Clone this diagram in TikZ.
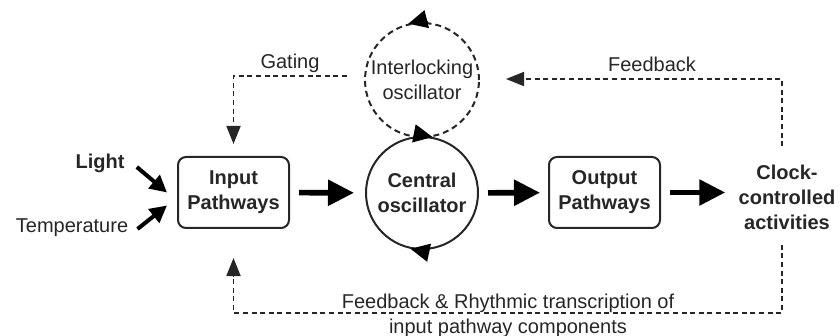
\documentclass[tikz,border=0pt]{standalone}
\usepackage{fontspec}
\setmainfont{Liberation Sans}
\usetikzlibrary{arrows.meta}

\begin{document}
\begin{tikzpicture}[x=0.5pt, y=0.5pt,
    every node/.style={font=\fontsize{10}{12.5}\selectfont, text=black!85, inner sep=0pt, align=center},
    pathbox/.style={draw=black!85, line width=1pt, rounded corners=4pt, minimum width=55.5pt, minimum height=35.5pt, font=\fontsize{10}{12.5}\selectfont\bfseries},
    osc/.style={circle, draw=black!85, line width=1pt, minimum size=56pt},
    bigarrow/.style={draw=black, line width=2.8pt, -{Triangle[length=13pt,width=12.5pt]}},
    smallarrow/.style={draw=black, line width=2pt, -{Triangle[length=8.5pt,width=8.5pt]}},
    fb/.style={draw=black!85, dash pattern=on 2.5pt off 1.8pt, line width=0.9pt, -{Triangle[length=9pt,width=7pt]}},
    spin/.style={draw=black, line width=1pt, -{Triangle[length=9.5pt,width=9pt]}}]
    \useasboundingbox (0,0) rectangle (840,-336);

    % boxes and oscillators
    \node[pathbox] (input) at (233.5,-192.5) {Input\\Pathways};
    \node[osc, font=\fontsize{10}{12.5}\selectfont\bfseries] (central) at (422,-193) {Central\\oscillator};
    \node[osc, minimum size=57pt, dash pattern=on 3pt off 2pt] (inter) at (422,-80) {Interlocking\\oscillator};
    \node[pathbox] (output) at (604.5,-192.5) {Output\\Pathways};
    \node[font=\fontsize{10}{12.5}\selectfont\bfseries] (clock) at (787,-197) {Clock-\\controlled\\activities};

    % inputs
    \node[font=\fontsize{10}{12.5}\selectfont\bfseries] (light) at (100,-163) {Light};
    \node (temp) at (72,-228) {Temperature};

    % labels
    \node (gating) at (290,-63) {Gating};
    \node (feedback) at (652,-64) {Feedback};
    \node (rhythm) at (508,-316) {Feedback \& Rhythmic transcription of\\input pathway components};

    % main flow
    \draw[bigarrow, shorten <=4.5pt, shorten >=5.5pt] (input) -- (central);
    \draw[bigarrow, shorten <=4.5pt, shorten >=4pt] (central) -- (output);
    \draw[bigarrow, shorten <=4.5pt, shorten >=6.5pt] (output.east) -- (output.east -| clock.west);
    \draw[smallarrow] ([shift={(6pt,-2pt)}]light.east) -- ([shift={(-5pt,0pt)}]input.west);
    \draw[smallarrow] ([shift={(4.5pt,-0.5pt)}]temp.east) -- ([shift={(-5pt,-6.5pt)}]input.west);

    % rotation of the oscillators
    \draw[spin] (central.98) arc[start angle=98, end angle=79, radius=28pt];
    \draw[spin] (central.277) arc[start angle=277, end angle=258, radius=28pt];
    \draw[spin] (inter.84) arc[start angle=84, end angle=104, radius=28.5pt];

    % dashed feedback loops
    \draw[fb] ([shift={(-8.5pt,2pt)}]inter.west) -| ([yshift=6pt]input.north);
    \draw[fb] ([shift={(-2.5pt,9pt)}]clock.north) |- ([shift={(13pt,0.5pt)}]inter.east);
    \draw[fb] ([shift={(-2.5pt,-7.5pt)}]clock.south) -- ++(0,-68) -| ([yshift=-14.5pt]input.south);
\end{tikzpicture}
\end{document}
